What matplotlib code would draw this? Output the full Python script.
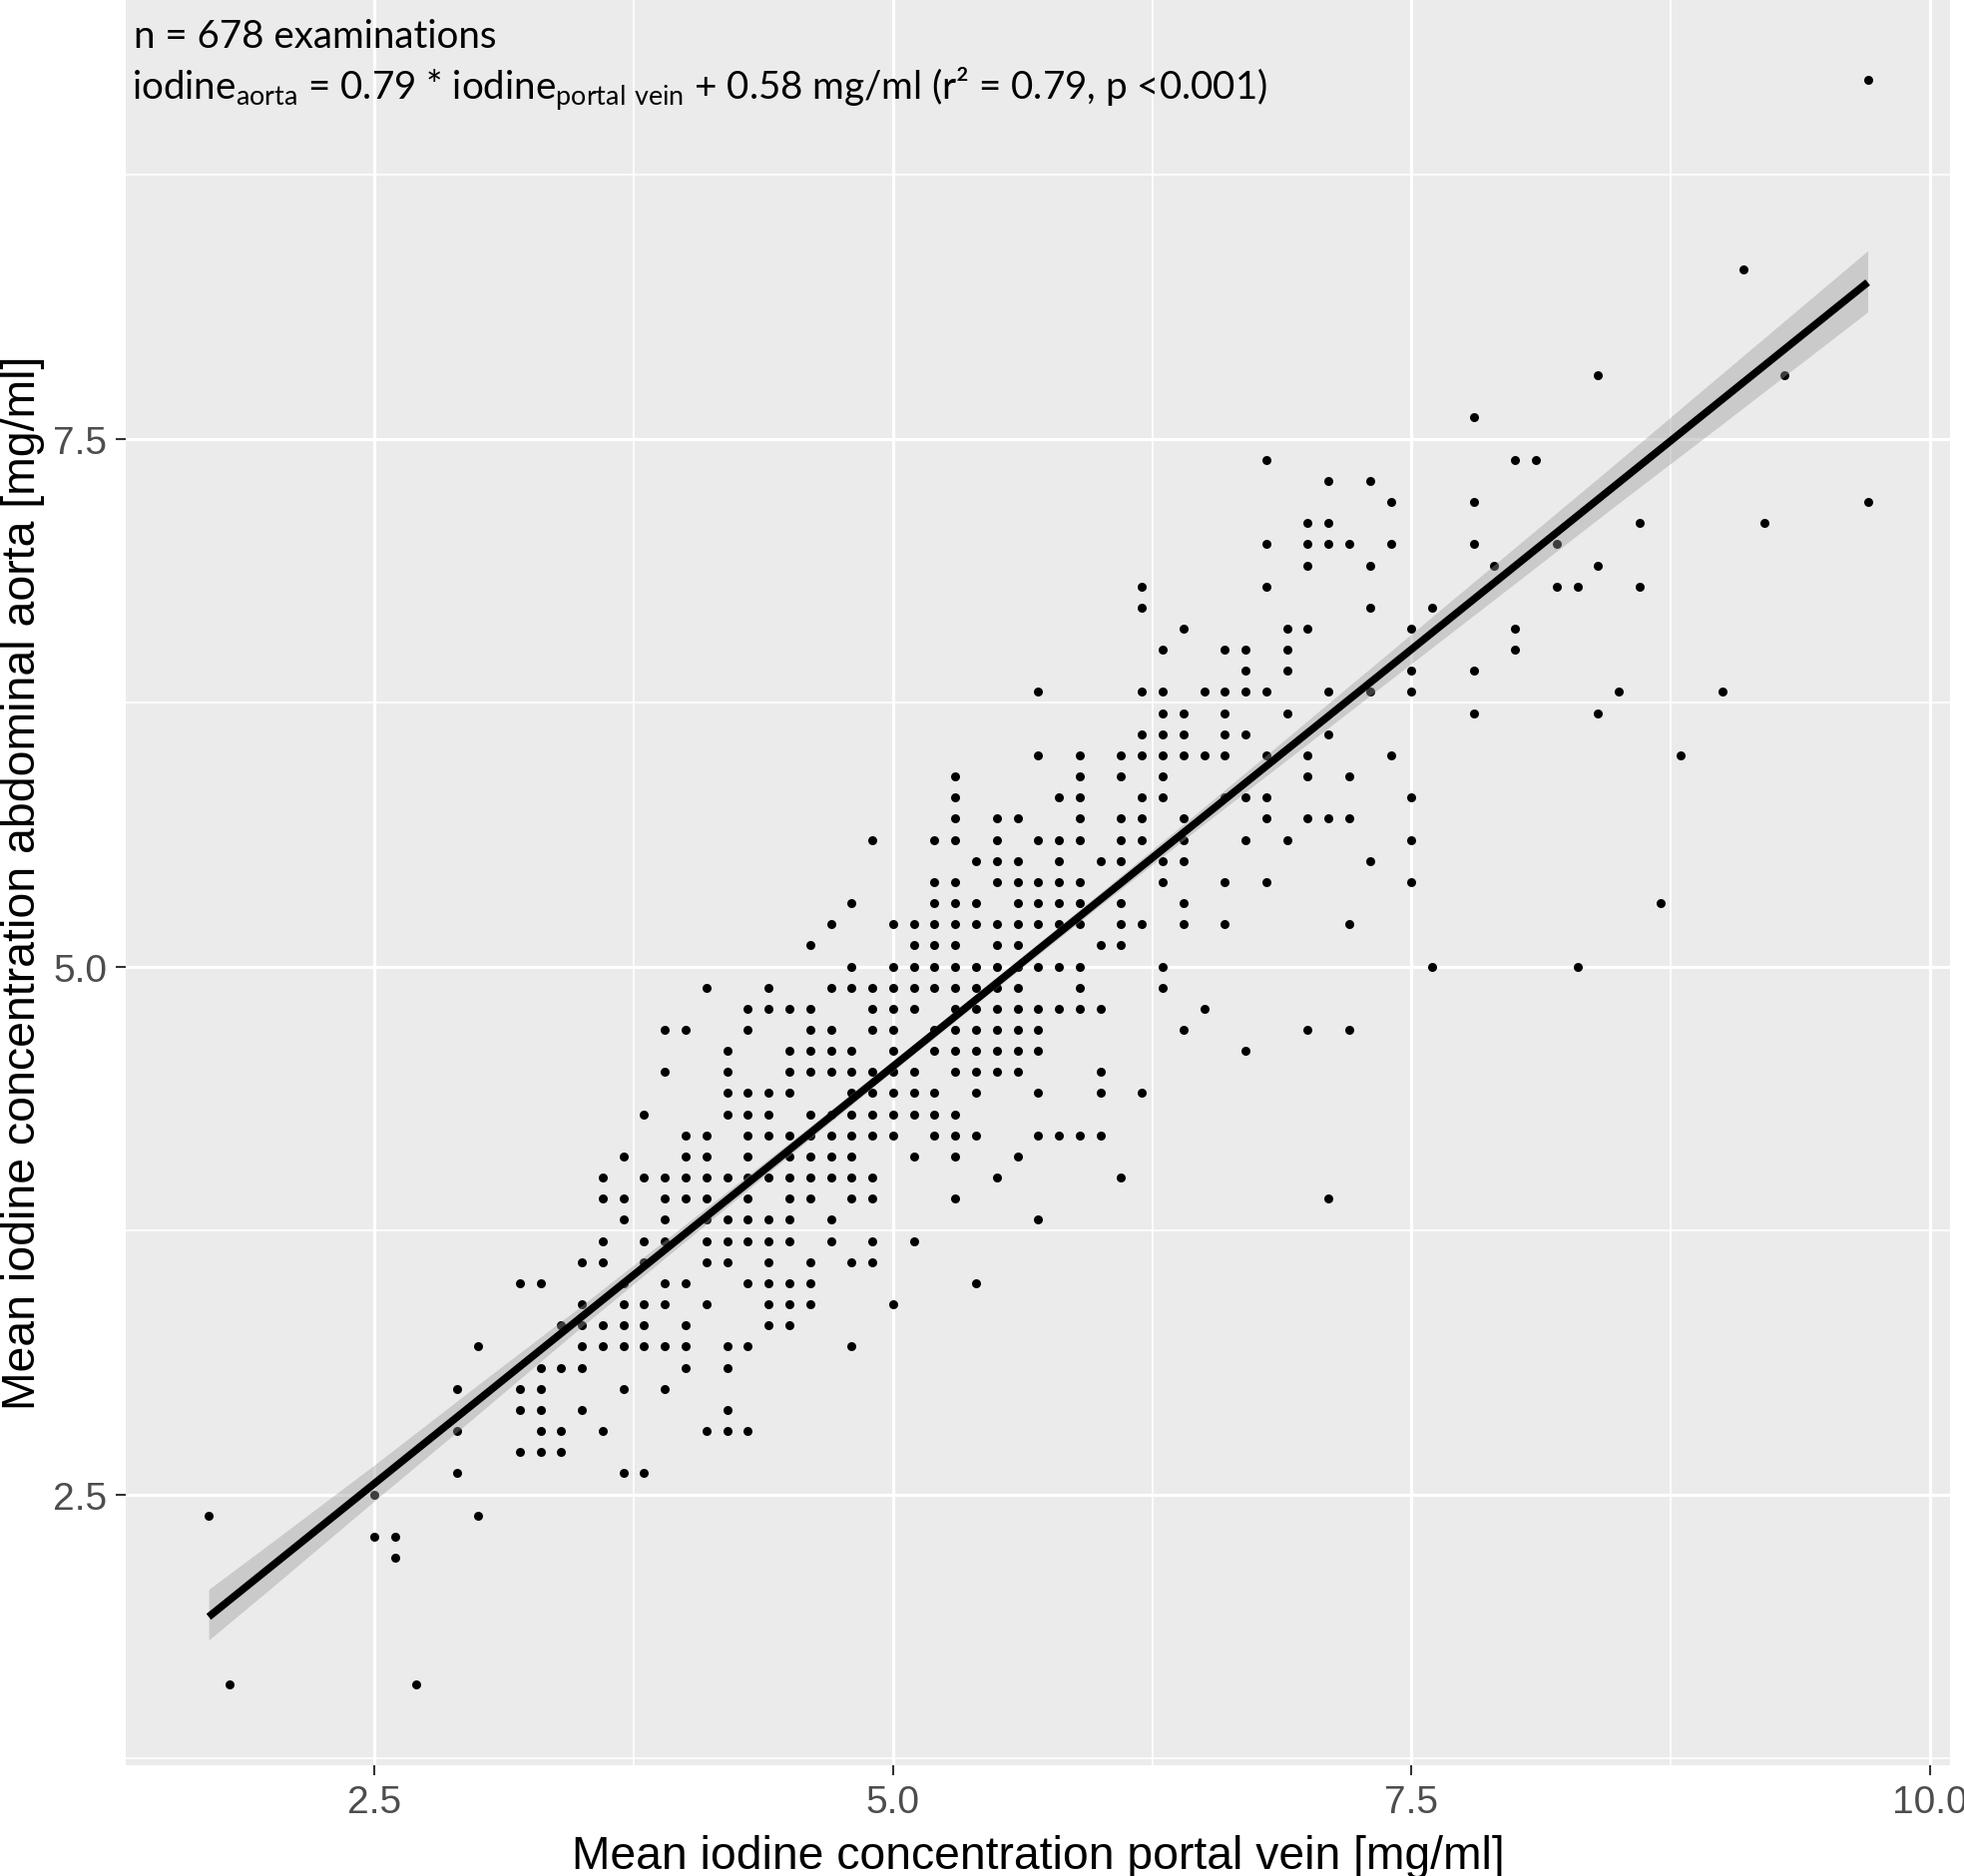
import matplotlib
matplotlib.use('Agg')
import matplotlib.pyplot as plt

plt.rcParams['font.family'] = ['Liberation Sans', 'DejaVu Sans']
plt.rcParams['mathtext.fontset'] = 'custom'
plt.rcParams['mathtext.rm'] = 'Lato'

# aorta value of each row of dots, and the portal vein values found on that row
aorta_levels = [9.2, 8.3, 7.8, 7.6, 7.4, 7.3, 7.2, 7.1, 7.0, 6.9, 6.8, 6.7, 6.6, 6.5, 6.4, 6.3,
                6.2, 6.1, 6.0, 5.9, 5.8, 5.7, 5.6, 5.5, 5.4, 5.3, 5.2, 5.1, 5.0, 4.9, 4.8, 4.7,
                4.6, 4.5, 4.4, 4.3, 4.2, 4.1, 4.0, 3.9, 3.8, 3.7, 3.6, 3.5, 3.4, 3.3, 3.2, 3.1,
                3.0, 2.9, 2.8, 2.7, 2.6, 2.5, 2.4, 2.3, 2.2, 1.6]
portal_rows = [
    [9.7],
    [9.1],
    [8.4, 9.3],
    [7.8],
    [6.8, 8.0, 8.1],
    [7.1, 7.3],
    [7.4, 7.8, 9.7],
    [7.0, 7.1, 8.6, 9.2],
    [6.8, 7.0, 7.1, 7.2, 7.4, 7.8, 8.2],
    [7.0, 7.3, 7.9, 8.4],
    [6.2, 6.8, 8.2, 8.3, 8.6],
    [6.2, 7.3, 7.6],
    [6.4, 6.9, 7.0, 7.5, 8.0],
    [6.3, 6.6, 6.7, 6.9, 8.0],
    [6.7, 6.9, 7.5, 7.8],
    [5.7, 6.2, 6.3, 6.5, 6.6, 6.7, 6.8, 7.1, 7.3, 7.5, 8.5, 9.0],
    [6.3, 6.4, 6.6, 6.9, 7.8, 8.4],
    [6.2, 6.3, 6.4, 6.6, 6.7, 7.1],
    [5.7, 5.9, 6.1, 6.2, 6.3, 6.4, 6.5, 6.6, 6.8, 7.0, 7.4, 8.8],
    [5.3, 5.9, 6.1, 6.3, 7.0, 7.2],
    [5.3, 5.8, 5.9, 6.2, 6.3, 6.6, 6.7, 6.8, 7.5],
    [5.3, 5.5, 5.6, 5.9, 6.1, 6.2, 6.4, 6.8, 7.0, 7.1, 7.2],
    [4.9, 5.2, 5.3, 5.5, 5.7, 5.8, 5.9, 6.1, 6.2, 6.4, 6.7, 6.9, 7.5],
    [5.4, 5.5, 5.6, 5.8, 6.0, 6.1, 6.3, 6.4, 7.3],
    [5.2, 5.3, 5.5, 5.6, 5.7, 5.8, 5.9, 6.3, 6.6, 6.8, 7.5],
    [4.8, 5.2, 5.3, 5.4, 5.6, 5.7, 5.8, 5.9, 6.1, 6.4, 8.7],
    [4.7, 5.0, 5.1, 5.2, 5.3, 5.4, 5.5, 5.6, 5.7, 5.8, 5.9, 6.1, 6.2, 6.4, 6.6, 7.2],
    [4.6, 5.1, 5.2, 5.3, 5.5, 5.6, 6.0, 6.1],
    [4.8, 5.0, 5.1, 5.2, 5.3, 5.4, 5.5, 5.6, 5.7, 5.8, 5.9, 6.3, 7.6, 8.3],
    [4.1, 4.4, 4.7, 4.8, 4.9, 5.0, 5.1, 5.2, 5.3, 5.4, 5.5, 5.6, 5.9, 6.3],
    [4.3, 4.4, 4.5, 4.6, 4.9, 5.0, 5.1, 5.3, 5.4, 5.5, 5.6, 5.7, 5.8, 5.9, 6.0, 6.5],
    [3.9, 4.0, 4.3, 4.6, 4.7, 4.9, 5.0, 5.2, 5.3, 5.4, 5.5, 5.6, 5.7, 6.4, 7.0, 7.2],
    [4.2, 4.5, 4.6, 4.7, 4.8, 5.0, 5.2, 5.3, 5.4, 5.5, 5.6, 5.7, 6.7],
    [3.9, 4.2, 4.5, 4.6, 4.7, 4.8, 4.9, 5.0, 5.1, 5.3, 5.4, 5.5, 5.6, 6.0],
    [4.2, 4.3, 4.4, 4.5, 4.8, 4.9, 5.0, 5.1, 5.2, 5.4, 5.7, 6.0, 6.2],
    [3.8, 4.2, 4.3, 4.4, 4.6, 4.7, 4.8, 4.9, 5.0, 5.1, 5.2, 5.3],
    [4.0, 4.1, 4.3, 4.4, 4.5, 4.6, 4.7, 4.8, 4.9, 5.0, 5.2, 5.3, 5.4, 5.7, 5.8, 5.9, 6.0],
    [3.7, 4.0, 4.1, 4.3, 4.5, 4.6, 4.7, 4.8, 5.1, 5.3, 5.6],
    [3.6, 3.8, 3.9, 4.0, 4.1, 4.2, 4.3, 4.4, 4.5, 4.6, 4.7, 4.8, 4.9, 5.5, 6.1],
    [3.6, 3.7, 3.9, 4.0, 4.1, 4.3, 4.5, 4.6, 4.8, 4.9, 5.3, 7.1],
    [3.7, 3.9, 4.1, 4.2, 4.3, 4.4, 4.5, 4.7, 5.7],
    [3.6, 3.8, 3.9, 4.1, 4.2, 4.3, 4.4, 4.5, 4.7, 4.9, 5.1],
    [3.5, 3.6, 3.8, 4.1, 4.2, 4.4, 4.6, 4.8, 4.9],
    [3.2, 3.3, 3.7, 3.9, 4.0, 4.3, 4.4, 4.5, 4.6, 5.4],
    [3.5, 3.7, 3.8, 3.9, 4.1, 4.4, 4.5, 4.6, 5.0],
    [3.4, 3.5, 3.6, 3.7, 3.8, 4.0, 4.4, 4.5],
    [3.0, 3.5, 3.6, 3.7, 3.8, 3.9, 4.0, 4.2, 4.3, 4.8],
    [3.3, 3.4, 3.5, 4.0, 4.2],
    [2.9, 3.2, 3.3, 3.7, 3.9],
    [3.2, 3.3, 3.5, 4.2],
    [2.9, 3.3, 3.4, 3.6, 4.1, 4.2, 4.3],
    [3.2, 3.3, 3.4],
    [2.9, 3.7, 3.8],
    [2.5],
    [1.7, 3.0],
    [2.5, 2.6],
    [2.6],
    [1.8, 2.7],
]

# regression line and its confidence band
fit_x = [1.7, 9.7]
fit_y = [1.92, 8.24]
band_x = [1.7, 2.0, 2.5, 3.0, 3.5, 4.0, 4.5, 5.0, 5.5, 6.0, 6.5, 7.0, 7.5, 8.0, 8.5, 9.0, 9.7]
band_upper = [2.05, 2.27, 2.64, 3.02, 3.395, 3.78, 4.165, 4.555, 4.95, 5.35, 5.755, 6.165,
              6.575, 6.985, 7.395, 7.81, 8.39]
band_lower = [1.81, 2.055, 2.47, 2.88, 3.295, 3.70, 4.105, 4.505, 4.90, 5.29, 5.675, 6.055,
              6.435, 6.815, 7.195, 7.57, 8.10]

major_ticks = [2.5, 5.0, 7.5]
x_major_ticks = [2.5, 5.0, 7.5, 10.0]
x_minor_ticks = [3.75, 6.25, 8.75]
y_minor_ticks = [1.25, 3.75, 6.25, 8.75]

W, H = 1968, 1881
fig = plt.figure(figsize=(W / 100, H / 100), dpi=100, facecolor='white')
ax = fig.add_axes([126 / W, 1 - 1770 / H, 1828 / W, 1770 / H])
ax.set_facecolor('#EBEBEB')
for s in ax.spines.values():
    s.set_visible(False)

ax.set_xlim(1.30, 10.097)
ax.set_ylim(1.217, 9.582)

for portal, level in zip(portal_rows, aorta_levels):
    ax.scatter(portal, [level] * len(portal), s=42, color='black', linewidths=0, zorder=3)

ax.fill_between(band_x, band_lower, band_upper, color='#999999', alpha=0.4, linewidth=0, zorder=4)
ax.plot(fit_x, fit_y, color='black', lw=5.4, solid_capstyle='butt', zorder=5)

ax.set_xticks(x_major_ticks)
ax.set_xticklabels(['2.5', '5.0', '7.5', '10.0'])
ax.set_yticks(major_ticks)
ax.set_yticklabels(['2.5', '5.0', '7.5'])
ax.set_xticks(x_minor_ticks, minor=True)
ax.set_yticks(y_minor_ticks, minor=True)
ax.set_axisbelow(True)
ax.grid(which='major', color='white', lw=2.3)
ax.grid(which='minor', color='white', lw=1.2)
ax.tick_params(which='minor', length=0)
ax.tick_params(which='major', length=7.5, width=1.5, color='#333333', labelcolor='#4D4D4D',
               labelsize=28, pad=6)

fig.text(1040 / W, 1 - 1861 / H, 'Mean iodine concentration portal vein [mg/ml]', fontsize=33.3,
         color='black', ha='center', va='center')
fig.text(23 / W, 1 - 885 / H, 'Mean iodine concentration abdominal aorta [mg/ml]', fontsize=33.4,
         color='black', rotation=90, ha='center', va='center')

fig.text(134 / W, 1 - 48 / H, 'n = 678 examinations', family='Lato', fontsize=27.7, color='black',
         va='baseline')
fig.text(132 / W, 1 - 100 / H,
         r'iodine$\mathrm{_{aorta}}$ = 0.79 * iodine$\mathrm{_{portal\ vein}}$ + 0.58 mg/ml (r² = 0.79, p <0.001)',
         family='Lato', fontsize=27.7, color='black', va='baseline')

fig.savefig('out.png', dpi=100)
